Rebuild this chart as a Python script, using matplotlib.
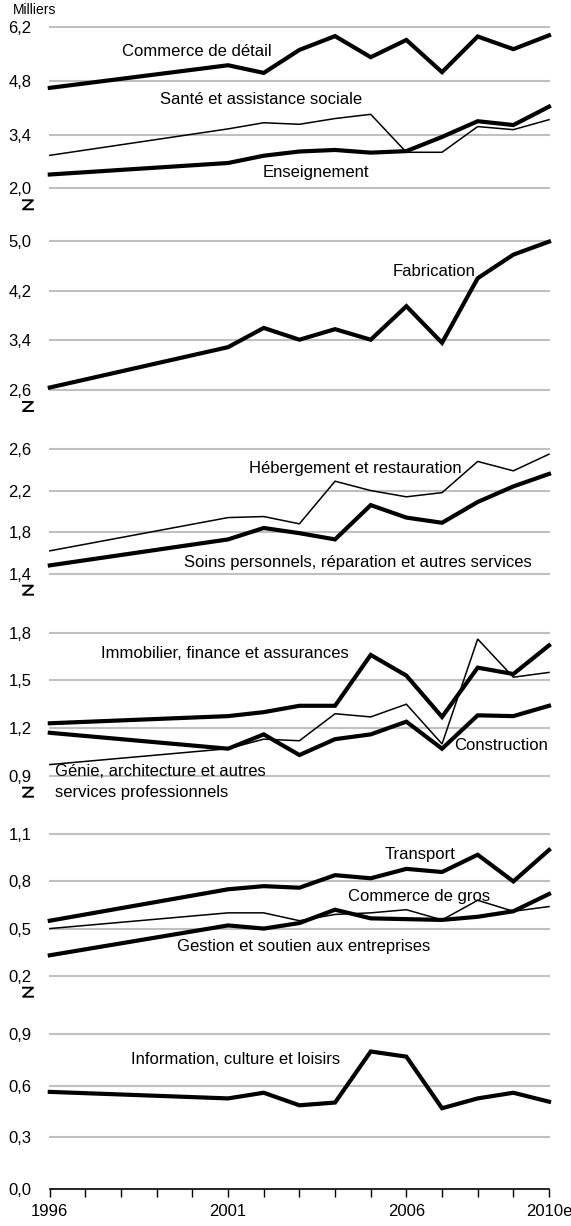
import numpy as np
import matplotlib
matplotlib.use('Agg')
import matplotlib.pyplot as plt
from matplotlib.lines import Line2D
from matplotlib import font_manager

# narrow face if it exists, else the regular one a bit smaller
_names = {f.name for f in font_manager.fontManager.ttflist}
if 'Liberation Sans Narrow' in _names:
    FAMILY, FS = 'Liberation Sans Narrow', 14.2
else:
    FAMILY, FS = 'Liberation Sans', 12
plt.rcParams['font.family'] = [FAMILY, 'DejaVu Sans']

# ------------------------------------------------------------------ data
years = [1996, 2001, 2002, 2003, 2004, 2005, 2006, 2007, 2008, 2009, 2010]
year_ticks = list(range(1996, 2011))
year_labels = {1996: '1996', 2001: '2001', 2006: '2006', 2010: '2010e'}

commerce_detail = [4.62, 5.21, 5.01, 5.61, 5.97, 5.42, 5.87, 5.03, 5.96, 5.63, 5.99]
sante = [2.86, 3.55, 3.71, 3.67, 3.82, 3.93, 2.94, 2.94, 3.61, 3.53, 3.79]
enseignement = [2.36, 2.66, 2.85, 2.96, 3.00, 2.93, 2.97, 3.34, 3.75, 3.65, 4.13]

fabrication = [2.64, 3.29, 3.60, 3.41, 3.58, 3.41, 3.95, 3.36, 4.40, 4.78, 4.99]

hebergement = [1.62, 1.94, 1.95, 1.88, 2.29, 2.20, 2.14, 2.18, 2.48, 2.39, 2.55]
soins = [1.48, 1.73, 1.84, 1.79, 1.73, 2.06, 1.94, 1.89, 2.09, 2.24, 2.36]

immobilier = [1.23, 1.275, 1.30, 1.34, 1.34, 1.66, 1.53, 1.27, 1.58, 1.54, 1.72]
genie = [0.97, 1.07, 1.13, 1.12, 1.29, 1.27, 1.35, 1.10, 1.76, 1.52, 1.55]
construction = [1.17, 1.07, 1.16, 1.03, 1.13, 1.16, 1.24, 1.07, 1.28, 1.275, 1.34]

transport = [0.55, 0.75, 0.77, 0.76, 0.84, 0.82, 0.88, 0.86, 0.97, 0.80, 1.00]
commerce_gros = [0.50, 0.60, 0.60, 0.55, 0.59, 0.60, 0.62, 0.555, 0.68, 0.61, 0.64]
gestion = [0.33, 0.52, 0.50, 0.535, 0.62, 0.565, 0.56, 0.555, 0.575, 0.61, 0.72]

information = [0.565, 0.527, 0.56, 0.487, 0.503, 0.80, 0.77, 0.47, 0.527, 0.56, 0.508]

panel_ticks = [
    [2.0, 3.4, 4.8, 6.2],
    [2.6, 3.4, 4.2, 5.0],
    [1.4, 1.8, 2.2, 2.6],
    [0.9, 1.2, 1.5, 1.8],
    [0.2, 0.5, 0.8, 1.1],
    [0.0, 0.3, 0.6, 0.9],
]

# ------------------------------------------------------------------ layout (pixels)
W, H = 571, 1226
x_left, x_right = 49.8, 549.0
panel_px = [(27.3, 188.3), (241, 390), (449, 573.7),
            (632.7, 775.7), (834.3, 975.7), (1034.3, 1189)]

THICK, THIN = 3.0, 1.1

panel_series = [
    [(commerce_detail, THICK), (sante, THIN), (enseignement, THICK)],
    [(fabrication, THICK)],
    [(hebergement, THIN), (soins, THICK)],
    [(genie, THIN), (immobilier, THICK), (construction, THICK)],
    [(commerce_gros, THIN), (transport, THICK), (gestion, THICK)],
    [(information, THICK)],
]

fig = plt.figure(figsize=(W / 100, H / 100), dpi=100)

def fmt(v):
    return f'{v:.1f}'.replace('.', ',')

for i, ((top, bot), ticks, series) in enumerate(zip(panel_px, panel_ticks, panel_series)):
    ax = fig.add_axes([x_left / W, 1 - bot / H, (x_right - x_left) / W, (bot - top) / H])
    ax.set_xlim(1996, 2010)
    ax.set_ylim(ticks[0], ticks[-1])
    ax.set_yticks(ticks)
    ax.set_yticklabels([fmt(t) for t in ticks], fontsize=FS)
    ax.tick_params(axis='y', length=0, pad=13)
    for t in ticks:
        if i == 5 and t == ticks[0]:
            continue
        ax.axhline(t, color='#c0c0c0', lw=1.5, zorder=0, clip_on=False)
    for vals, lw in series:
        ax.plot(years, vals, color='black', lw=lw, solid_joinstyle='miter',
                clip_on=False, zorder=3)
    for s in ax.spines.values():
        s.set_visible(False)
    if i < 5:
        ax.set_xticks([])
        # axis break mark
        zy = 1 - (bot + 12) / H
        zh = 9 / H
        zx0, zx1 = 23 / W, 33 / W
        fig.add_artist(Line2D([zx0, zx1, zx0, zx1], [zy, zy, zy - zh, zy - zh],
                              color='black', lw=1.4, transform=fig.transFigure))
    else:
        ax.spines['bottom'].set_visible(True)
        ax.spines['bottom'].set_linewidth(1.2)
        ax.set_xticks(year_ticks)
        ax.set_xticklabels([year_labels.get(y, '') for y in year_ticks], fontsize=FS)
        ax.tick_params(axis='x', length=6, width=1.0, direction='out', pad=5)

# ------------------------------------------------------------------ labels
def label(txt, x, y, ha='center'):
    fig.text(x / W, 1 - y / H, txt, fontsize=FS, ha=ha, va='center')

label('Commerce de détail', 197, 51)
label('Santé et assistance sociale', 261, 100)
label('Enseignement', 316, 172)
label('Fabrication', 434, 271)
label('Hébergement et restauration', 355, 468)
label('Soins personnels, réparation et autres services', 358, 562)
label('Immobilier, finance et assurances', 225, 653)
label('Construction', 501, 746)
label('Génie, architecture et autres', 55, 772, ha='left')
label('services professionnels', 55, 792, ha='left')
label('Transport', 420, 855)
label('Commerce de gros', 419, 896)
label('Gestion et soutien aux entreprises', 304, 947)
label('Information, culture et loisirs', 236, 1059)

fig.text(13 / W, 1 - 10 / H, 'Milliers', fontsize=FS - 2, ha='left', va='center')

fig.savefig('out.png', dpi=100)
